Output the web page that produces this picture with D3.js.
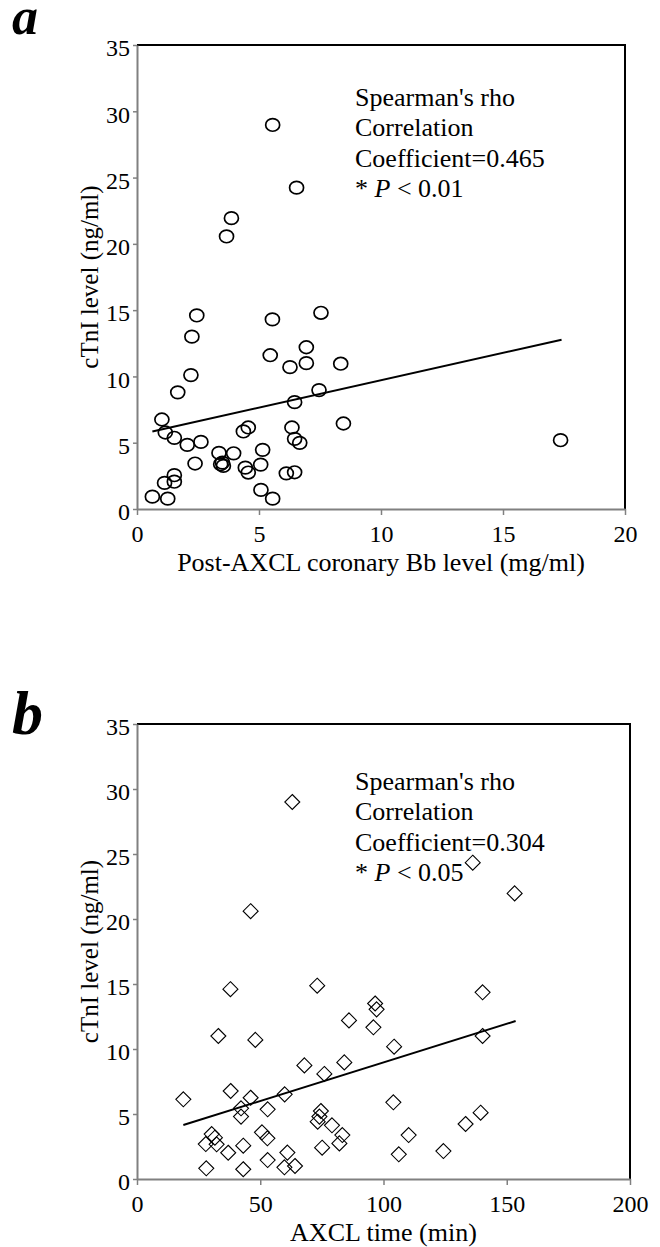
<!DOCTYPE html>
<html>
<head>
<meta charset="utf-8">
<script src="https://cdn.jsdelivr.net/npm/d3@7"></script>
<style>
  body { margin: 0; background: #fff; }
  text { font-family: "Liberation Serif", "Times New Roman", serif; fill: #000; }
</style>
</head>
<body>
<div id="chart"></div>
<script>
// ---- data ----
const bbLevel = [2.45, 2.25, 2.21, 1.67, 1.02, 1.16, 1.53, 2.06, 2.62, 2.38, 3.36, 3.50, 3.54, 3.43, 3.96,
  4.36, 4.56, 4.44, 4.56, 5.07, 5.15, 5.08, 5.56, 5.55, 5.46, 6.27, 6.94, 6.94, 7.54, 8.35, 7.46, 6.46,
  6.35, 6.46, 6.67, 8.46, 6.12, 6.46, 0.63, 1.26, 1.13, 1.53, 1.53, 5.56, 6.54, 3.87, 3.67, 17.36];
const ctniA = [14.6, 13.0, 10.1, 8.8, 6.75, 5.77, 5.37, 4.84, 5.06, 3.43, 4.23, 3.5, 3.25, 3.38, 4.2,
  5.85, 6.15, 3.12, 2.75, 3.35, 4.46, 1.44, 0.78, 14.3, 11.6, 10.7, 12.2, 11.0, 14.8, 10.96, 8.97, 8.06,
  6.15, 5.29, 4.99, 6.45, 2.69, 2.77, 0.93, 0.78, 1.97, 2.55, 2.06, 28.97, 24.24, 21.94, 20.56, 5.19];
const trendA = [[0.63, 5.85], [17.4, 12.77]];
const statsA = ["Spearman's rho", "Correlation", "Coefficient=0.465", "0.01"];

const axclTime = [63.0, 46.1, 37.9, 73.1, 33.0, 48.0, 18.8, 38.0, 46.1, 42.2, 42.2, 53.0, 59.9, 67.9,
  76.0, 84.1, 86.0, 96.6, 97.2, 95.9, 74.6, 74.0, 73.3, 79.1, 83.3, 82.1, 75.1, 30.3, 31.6, 32.3, 27.9,
  37.0, 43.1, 50.7, 52.9, 53.0, 61.0, 59.8, 64.1, 28.1, 43.1, 136.2, 153.2, 140.2, 140.2, 104.3, 104.0,
  110.2, 106.2, 124.3, 133.3, 139.4];
const ctniB = [29.0, 20.6, 14.6, 14.87, 11.0, 10.7, 6.13, 6.77, 6.25, 5.44, 4.8, 5.36, 6.51, 8.74,
  8.08, 8.97, 12.2, 13.5, 13.05, 11.67, 5.23, 4.8, 4.41, 4.13, 3.38, 2.74, 2.41, 3.46, 3.18, 2.67, 2.69,
  2.02, 2.56, 3.59, 3.13, 1.46, 2.03, 0.9, 1.0, 0.82, 0.75, 24.33, 21.97, 14.36, 11.0, 10.18, 5.9,
  3.38, 1.9, 2.15, 4.23, 5.1];
const trendB = [[18.8, 4.15], [153.6, 12.15]];
const statsB = ["Spearman's rho", "Correlation", "Coefficient=0.304", "0.05"];

const yTicks = [0, 5, 10, 15, 20, 25, 30, 35];
const xTicksA = [0, 5, 10, 15, 20];
const xTicksB = [0, 50, 100, 150, 200];

const width = 660;
const height = 1247;

const svg = d3.select("#chart")
  .append("svg")
    .attr("width", width)
    .attr("height", height);

const drawPanel = (p) => {
  const xScale = d3.scaleLinear().domain(p.xDomain).range([p.left, p.right]);
  const yScale = d3.scaleLinear().domain([0, 35]).range([p.bottom, p.top]);

  const g = svg.append("g");

  // black frame on top and right
  g.append("path")
    .attr("d", `M${p.left},${p.top}H${p.right}V${p.bottom}`)
    .attr("fill", "none")
    .attr("stroke", "#000")
    .attr("stroke-width", 2);

  // axes
  const leftAxis = d3.axisLeft(yScale).tickValues(yTicks).tickSize(4).tickSizeOuter(0).tickPadding(3);
  const bottomAxis = d3.axisBottom(xScale).tickValues(p.xTicks).tickSize(6).tickSizeOuter(0).tickPadding(10);

  const yAx = g.append("g").attr("transform", `translate(${p.left},0)`).call(leftAxis);
  const xAx = g.append("g").attr("transform", `translate(0,${p.bottom})`).call(bottomAxis);
  [yAx, xAx].forEach(ax => {
    ax.select(".domain").attr("stroke", "#808080").attr("stroke-width", 2);
    ax.selectAll(".tick line").attr("stroke", "#808080").attr("stroke-width", 1.5);
    ax.selectAll(".tick text")
      .attr("font-family", "Liberation Serif")
      .attr("font-size", 24)
      .attr("fill", "#000");
  });
  yAx.selectAll(".tick text").attr("dy", "0.45em");

  // axis titles
  g.append("text")
    .attr("x", (p.left + p.right) / 2)
    .attr("y", p.bottom + 62)
    .attr("text-anchor", "middle")
    .attr("font-size", 26)
    .text(p.xTitle);

  g.append("text")
    .attr("transform", `translate(${p.left - 39},${(p.top + p.bottom) / 2}) rotate(-90)`)
    .attr("text-anchor", "middle")
    .attr("font-size", 25)
    .text("cTnI level (ng/ml)");

  // panel letter
  g.append("text")
    .attr("x", 12)
    .attr("y", p.letterY)
    .attr("font-size", p.letterSize)
    .attr("font-weight", "bold")
    .attr("font-style", "italic")
    .text(p.letter);

  // trend line
  g.append("line")
    .attr("x1", xScale(p.trend[0][0]))
    .attr("y1", yScale(p.trend[0][1]))
    .attr("x2", xScale(p.trend[1][0]))
    .attr("y2", yScale(p.trend[1][1]))
    .attr("stroke", "#000")
    .attr("stroke-width", 2);

  // points
  const pts = p.xs.map((x, i) => ({x, y: p.ys[i]}));
  if (p.shape === "circle") {
    g.selectAll(".pt")
      .data(pts)
      .join("ellipse")
        .attr("cx", d => xScale(d.x))
        .attr("cy", d => yScale(d.y))
        .attr("rx", 7)
        .attr("ry", 6.3)
        .attr("fill", "none")
        .attr("stroke", "#000")
        .attr("stroke-width", 1.7);
  } else {
    g.selectAll(".pt")
      .data(pts)
      .join("path")
        .attr("d", d => {
          const cx = xScale(d.x), cy = yScale(d.y), r = 7.5;
          return `M${cx},${cy - r}L${cx + r},${cy}L${cx},${cy + r}L${cx - r},${cy}Z`;
        })
        .attr("fill", "none")
        .attr("stroke", "#000")
        .attr("stroke-width", 1.1);
  }

  // stats annotation
  const ann = g.append("text")
    .attr("x", 355)
    .attr("y", p.annY)
    .attr("font-size", 26);
  p.stats.slice(0, 3).forEach((s, i) => {
    ann.append("tspan").attr("x", 355).attr("dy", i === 0 ? 0 : 30.3).text(s);
  });
  ann.append("tspan").attr("x", 355).attr("dy", 30.3).text("* ");
  ann.append("tspan").attr("font-style", "italic").text("P");
  ann.append("tspan").text(` < ${p.stats[3]}`);
};

drawPanel({
  letter: "a", letterY: 34, letterSize: 52, annY: 106,
  left: 137, right: 625, top: 45, bottom: 509,
  xDomain: [0, 20], xTicks: xTicksA, xs: bbLevel, ys: ctniA, trend: trendA,
  stats: statsA, shape: "circle", xTitle: "Post-AXCL coronary Bb level (mg/ml)"
});

drawPanel({
  letter: "b", letterY: 734, letterSize: 62, annY: 790,
  left: 137, right: 630, top: 724, bottom: 1179,
  xDomain: [0, 200], xTicks: xTicksB, xs: axclTime, ys: ctniB, trend: trendB,
  stats: statsB, shape: "diamond", xTitle: "AXCL time (min)"
});
</script>
</body>
</html>
